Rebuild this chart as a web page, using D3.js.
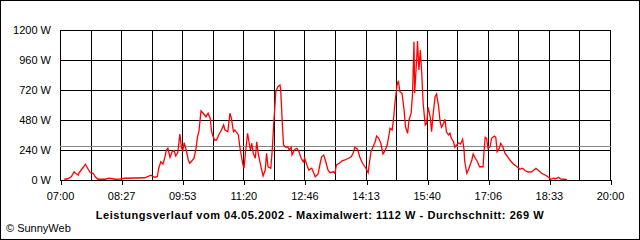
<!DOCTYPE html>
<html>
<head>
<meta charset="utf-8">
<script src="https://cdn.jsdelivr.net/npm/d3@7"></script>
<style>
  body { margin: 0; background: #fff; }
  svg { display: block; }
  text { font-family: Arial, "Liberation Sans", sans-serif; font-size: 11px; fill: #000; }
</style>
</head>
<body>
<div id="chart"></div>
<script>
// Leistungsverlauf 04.05.2002 (SunnyWeb)
const times = ["07:06","07:11","07:16","07:20","07:22","07:26","07:27","07:30","07:33","07:36",
  "07:40","07:43","07:47","07:50","07:54","08:03","08:10","08:18","08:25","08:32",
  "08:46","09:00","09:09","09:14","09:18","09:20","09:23","09:26","09:28","09:31",
  "09:33","09:36","09:39","09:42","09:44","09:47","09:50","09:52","09:54","09:56",
  "09:59","10:02","10:04","10:08","10:10","10:13","10:15","10:17","10:20","10:23",
  "10:27","10:30","10:33","10:35","10:39","10:42","10:45","10:49","10:52","10:54",
  "10:58","11:01","11:03","11:06","11:08","11:13","11:15","11:19","11:21","11:23",
  "11:26","11:28","11:30","11:32","11:34","11:37","11:39","11:41","11:45","11:48",
  "11:51","11:53","11:55","11:59","12:01","12:03","12:05","12:06","12:09","12:12",
  "12:13","12:15","12:17","12:20","12:23","12:25","12:28","12:29","12:33","12:36",
  "12:39","12:42","12:45","12:47","12:51","12:53","12:57","13:01","13:02","13:06",
  "13:09","13:11","13:14","13:17","13:20","13:23","13:28","13:30","13:32","13:36",
  "13:40","13:44","13:49","13:53","13:56","13:58","14:02","14:05","14:09","14:13",
  "14:15","14:17","14:19","14:21","14:24","14:27","14:29","14:32","14:35","14:38",
  "14:41","14:44","14:47","14:48","14:51","14:53","14:55","14:58","15:00","15:02",
  "15:05","15:08","15:10","15:13","15:15","15:18","15:20","15:22","15:23","15:26",
  "15:27","15:29","15:31","15:33","15:35","15:38","15:40","15:42","15:45","15:47",
  "15:49","15:52","15:54","15:57","15:59","16:01","16:04","16:06","16:08","16:11",
  "16:13","16:15","16:18","16:20","16:25","16:28","16:31","16:33","16:34","16:37",
  "16:40","16:44","16:46","16:49","16:52","16:55","17:00","17:01","17:03","17:05",
  "17:07","17:10","17:12","17:16","17:18","17:20","17:23","17:25","17:28","17:31",
  "17:34","17:38","17:43","17:49","17:52","17:56","18:00","18:04","18:09","18:12",
  "18:15","18:19","18:23","18:28","18:32","18:36","18:40","18:43","18:47","18:50",
  "18:55","18:59"];
const watts = [6,10,26,66,54,40,58,80,102,126,
  86,58,54,26,6,6,14,6,8,14,
  16,18,38,22,26,94,146,128,166,240,
  254,182,226,234,192,218,368,266,226,298,
  240,160,134,160,174,254,346,386,554,534,
  506,534,494,386,320,320,360,400,440,400,
  386,534,494,386,400,360,266,134,94,214,
  374,306,240,294,214,174,306,214,106,32,
  80,214,106,94,240,440,614,706,746,760,
  720,480,280,262,266,240,262,200,246,254,
  226,174,146,174,106,80,94,40,26,48,
  134,186,200,146,80,58,66,54,120,134,
  154,160,174,186,218,262,246,186,134,102,
  80,58,146,226,266,306,352,334,294,208,
  234,280,374,414,400,486,614,760,794,706,
  694,560,426,374,480,534,694,1106,694,986,
  1112,880,1040,854,614,440,454,582,506,386,
  520,666,688,586,466,422,454,486,386,360,
  374,334,306,262,298,288,326,240,146,54,
  94,160,208,174,146,106,106,200,342,334,
  254,266,334,352,342,226,254,294,266,214,
  192,160,128,102,86,94,74,64,66,80,
  94,74,54,40,26,6,14,10,22,8,
  6,2];

const timeLabels = ["07:00","08:27","09:53","11:20","12:46","14:13","15:40","17:06","18:33","20:00"];
const yTicks = [0, 240, 480, 720, 960, 1200];
const average = 269;
const maximum = 1112;
const title = "Leistungsverlauf vom 04.05.2002 - Maximalwert: " + maximum + " W - Durchschnitt: " + average + " W";

const width = 640, height = 240;
const plotLeft = 60, plotRight = 610, plotTop = 30, plotBottom = 180;

const toMin = s => { const p = s.split(":"); return +p[0] * 60 + +p[1]; };
const start = 7 * 60, end = 20 * 60;

const svg = d3.select("#chart").append("svg")
  .attr("width", width)
  .attr("height", height);

svg.append("rect")
  .attr("x", 0.5).attr("y", 0.5)
  .attr("width", width - 1).attr("height", height - 1)
  .attr("fill", "#fff").attr("stroke", "#000");

const x = d3.scaleLinear().domain([start, end]).range([plotLeft, plotRight]);
const y = d3.scaleLinear().domain([0, 1200]).range([plotBottom, plotTop]);

// grid: a vertical line every half label step
const step = (end - start) / (timeLabels.length - 1);
const gridX = d3.range(0, (timeLabels.length - 1) * 2 + 1).map(i => start + i * step / 2);

const grid = svg.append("g").attr("stroke", "#000").attr("shape-rendering", "crispEdges");
grid.selectAll("line.v").data(gridX).enter().append("line")
  .attr("x1", d => Math.round(x(d)) + 0.5).attr("x2", d => Math.round(x(d)) + 0.5)
  .attr("y1", plotTop).attr("y2", plotBottom);
grid.selectAll("line.h").data(yTicks).enter().append("line")
  .attr("x1", plotLeft).attr("x2", plotRight + 1)
  .attr("y1", d => Math.round(y(d)) + 0.5).attr("y2", d => Math.round(y(d)) + 0.5);

// y axis labels
const yAxis = svg.append("g")
  .attr("transform", `translate(${plotLeft},0)`)
  .call(d3.axisLeft(y).tickValues(yTicks).tickFormat(d => d + " W").tickSize(0).tickPadding(9));
yAxis.select(".domain").remove();
yAxis.selectAll("text").style("font-family", "Arial, 'Liberation Sans', sans-serif").style("font-size", "11px");

// x axis labels
const labelTimes = timeLabels.map((t, i) => start + i * step);
const xAxis = svg.append("g")
  .attr("transform", `translate(0,${plotBottom})`)
  .call(d3.axisBottom(x).tickValues(labelTimes).tickFormat((d, i) => timeLabels[i]).tickSize(5).tickPadding(7));
xAxis.select(".domain").remove();
xAxis.selectAll("line").attr("stroke", "#000").attr("shape-rendering", "crispEdges")
  .attr("transform", d => `translate(${Math.round(x(d)) + 0.5 - x(d)},0)`);
xAxis.selectAll("text").style("font-family", "Arial, 'Liberation Sans', sans-serif").style("font-size", "11px");

// average line
svg.append("line")
  .attr("x1", plotLeft).attr("x2", plotRight + 1)
  .attr("y1", Math.round(y(average)) + 0.5).attr("y2", Math.round(y(average)) + 0.5)
  .attr("stroke", "#888").attr("stroke-width", 1)
  .attr("shape-rendering", "crispEdges");

// power curve
const series = times.map((t, i) => ({ t: toMin(t), w: watts[i] }));
const line = d3.line().x(d => x(d.t)).y(d => y(d.w));
svg.append("path")
  .datum(series)
  .attr("d", line)
  .attr("fill", "none")
  .attr("stroke", "#ff0000")
  .attr("stroke-width", 1.3)
  .attr("stroke-linejoin", "miter");

svg.append("text")
  .attr("x", 320).attr("y", 219)
  .attr("text-anchor", "middle")
  .style("font-weight", "bold")
  .style("letter-spacing", "0.55px")
  .text(title);

svg.append("text")
  .attr("x", 6).attr("y", 232)
  .text("© SunnyWeb");
</script>
</body>
</html>
